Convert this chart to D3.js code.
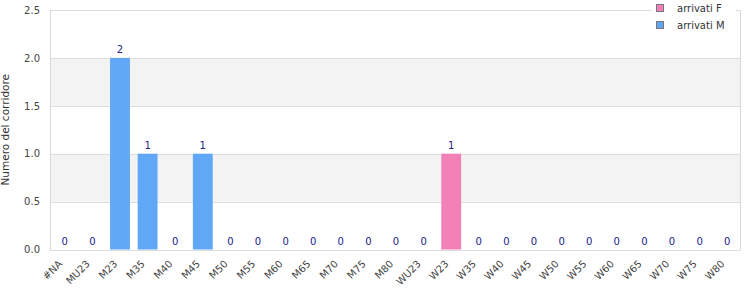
<!DOCTYPE html>
<html>
<head>
<meta charset="utf-8">
<script src="https://cdn.jsdelivr.net/npm/d3@7"></script>
<style>
  body { margin: 0; background: #fff; }
  text { font-family: "DejaVu Sans", sans-serif; }
</style>
</head>
<body>
<script>
const categories = ["#NA", "MU23", "M23", "M35", "M40", "M45", "M50", "M55", "M60", "M65", "M70", "M75", "M80",
  "WU23", "W23", "W35", "W40", "W45", "W50", "W55", "W60", "W65", "W70", "W75", "W80"];
const arrivatiF = [0, 0, 0, 0, 0, 0, 0, 0, 0, 0, 0, 0, 0, 0, 1, 0, 0, 0, 0, 0, 0, 0, 0, 0, 0];
const arrivatiM = [0, 0, 2, 1, 0, 1, 0, 0, 0, 0, 0, 0, 0, 0, 0, 0, 0, 0, 0, 0, 0, 0, 0, 0, 0];
const yTicks = [0, 0.5, 1.0, 1.5, 2.0, 2.5];
const seriesNames = ["arrivati F", "arrivati M"];
const seriesColors = ["#f281b8", "#60a8f5"];

const width = 750, height = 300;
const pLeft = 50, pRight = 740, pTop = 10, pBottom = 249.5;

const svg = d3.select("body").append("svg")
  .attr("width", width)
  .attr("height", height);

const x = d3.scaleBand().domain(categories).range([pLeft + 1, pRight + 1]).paddingInner(0.28).paddingOuter(0.14);
const y = d3.scaleLinear().domain([0, 2.5]).range([pBottom, pTop]);

// alternating bands
for (let i = 0; i < yTicks.length - 1; i++) {
  if (i % 2 === 1) {
    svg.append("rect")
      .attr("x", pLeft)
      .attr("y", y(yTicks[i + 1]))
      .attr("width", pRight - pLeft)
      .attr("height", y(yTicks[i]) - y(yTicks[i + 1]))
      .attr("fill", "#f3f3f3");
  }
}

// grid lines
svg.append("g").selectAll("line")
  .data(yTicks)
  .join("line")
  .attr("x1", pLeft)
  .attr("x2", pRight)
  .attr("y1", d => Math.round(y(d)) + 0.5)
  .attr("y2", d => Math.round(y(d)) + 0.5)
  .attr("stroke", "#dddddd");

// border
svg.append("line").attr("x1", pLeft + 0.5).attr("x2", pLeft + 0.5).attr("y1", pTop).attr("y2", pBottom + 1).attr("stroke", "#d8d8d8");
svg.append("line").attr("x1", pRight + 0.5).attr("x2", pRight + 0.5).attr("y1", pTop).attr("y2", pBottom + 1).attr("stroke", "#d8d8d8");

// bars (stacked F + M)
const rows = categories.map((c, i) => ({ cat: c, F: arrivatiF[i], M: arrivatiM[i] }));
const stacked = d3.stack().keys(["F", "M"])(rows);

svg.append("g").selectAll("g")
  .data(stacked)
  .join("g")
  .attr("fill", (d, i) => seriesColors[i])
  .selectAll("rect")
  .data(d => d)
  .join("rect")
  .attr("x", d => x(d.data.cat))
  .attr("width", x.bandwidth())
  .attr("y", d => y(d[1]))
  .attr("height", d => y(d[0]) - y(d[1]));

// value labels
svg.append("g").selectAll("text")
  .data(rows)
  .join("text")
  .attr("x", d => x(d.cat) + x.bandwidth() / 2)
  .attr("y", d => y(d.F + d.M) - 5)
  .attr("text-anchor", "middle")
  .attr("font-size", 10)
  .attr("fill", "#22228a")
  .text(d => d.F + d.M);

// y axis
const yAxis = d3.axisLeft(y).tickValues(yTicks).tickFormat(d3.format(".1f")).tickSize(0).tickPadding(10);
const gy = svg.append("g").attr("transform", `translate(${pLeft},0)`).call(yAxis);
gy.select(".domain").remove();
gy.selectAll("text").attr("font-size", 10).attr("fill", "#444").attr("font-family", "DejaVu Sans");

// x axis
const xAxis = d3.axisBottom(x).tickSize(0);
const gx = svg.append("g").attr("transform", `translate(0,${pBottom})`).call(xAxis);
gx.select(".domain").remove();
gx.selectAll("text")
  .attr("font-size", 10)
  .attr("fill", "#444")
  .attr("font-family", "DejaVu Sans")
  .attr("text-anchor", "end")
  .attr("y", 0)
  .attr("dy", 0)
  .attr("transform", "translate(-2,15) rotate(-45)");

// y title
svg.append("text")
  .attr("transform", `translate(9,${(pTop + pBottom) / 2}) rotate(-90)`)
  .attr("text-anchor", "middle")
  .attr("font-size", 10.5)
  .attr("fill", "#333")
  .text("Numero del corridore");

// legend
const lg = svg.append("g");
lg.append("rect").attr("x", 652).attr("y", 0).attr("width", 84).attr("height", 32).attr("fill", "#fff");
seriesNames.forEach((name, i) => {
  lg.append("rect")
    .attr("x", 656.5).attr("y", 4.5 + i * 17)
    .attr("width", 7).attr("height", 7)
    .attr("fill", seriesColors[i])
    .attr("stroke", "#777");
  lg.append("text")
    .attr("x", 677).attr("y", 12 + i * 17)
    .attr("font-size", 10)
    .attr("fill", "#333")
    .text(name);
});
</script>
</body>
</html>
